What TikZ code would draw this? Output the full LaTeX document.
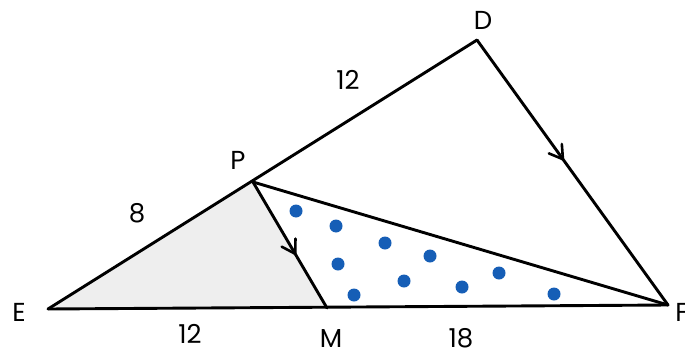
\documentclass[tikz,border=0pt]{standalone}
\usepackage{fontspec}
\setmainfont{Poppins}
\usetikzlibrary{decorations.markings}
\definecolor{dotblue}{RGB}{22,94,182}
\definecolor{paleshade}{RGB}{238,238,238}
\tikzset{
  edge/.style={line width=2.9pt,line join=round,line cap=round},
  lbl/.style={font=\fontsize{26}{30}\selectfont,inner sep=0pt},
  dot/.style={circle,fill=dotblue,inner sep=0pt,minimum size=13pt},
  midarrow/.style={postaction={decorate},decoration={markings,
    mark=at position #1 with {\draw[line width=2.6pt,line cap=round,line join=miter] (-13pt,8pt) -- (0pt,0pt) -- (-13pt,-8pt);}}}
}
\begin{document}
\begin{tikzpicture}[x=1pt,y=-1pt]
\useasboundingbox (0,0) rectangle (685,356);
\coordinate (E) at (48,309);
\coordinate (P) at (253,182);
\coordinate (M) at (327,308);
\coordinate (D) at (477,40);
\coordinate (F) at (668,305);
\fill[paleshade] (E) -- (P) -- (M) -- cycle;
\draw[edge] (E) -- (F);
\draw[edge] (E) -- (D);
\draw[edge,midarrow=0.45] (D) -- (F);
\draw[edge,midarrow=0.57] (P) -- (M);
\draw[edge] (P) -- (F);
\foreach \n/\x/\y in {1/296/211,2/336/226,3/385/243,4/430/256,5/338/264,6/404/281,7/499/273,8/462/287,9/354/295,10/554/294}
  \node[dot] (d\n) at (\x,\y) {};
\node[lbl] (lD) at (483,20) {D};
\node[lbl] (lP) at (238,160) {P};
\node[lbl] (lE) at (19,312) {E};
\node[lbl] (lM) at (331,338) {M};
\node[lbl] (lF) at (682,312) {F};
\node[lbl] (l12a) at (348,80) {12};
\node[lbl] (l8) at (137,213) {8};
\node[lbl] (l12b) at (190,334) {12};
\node[lbl] (l18) at (461,338) {18};
\end{tikzpicture}
\end{document}
